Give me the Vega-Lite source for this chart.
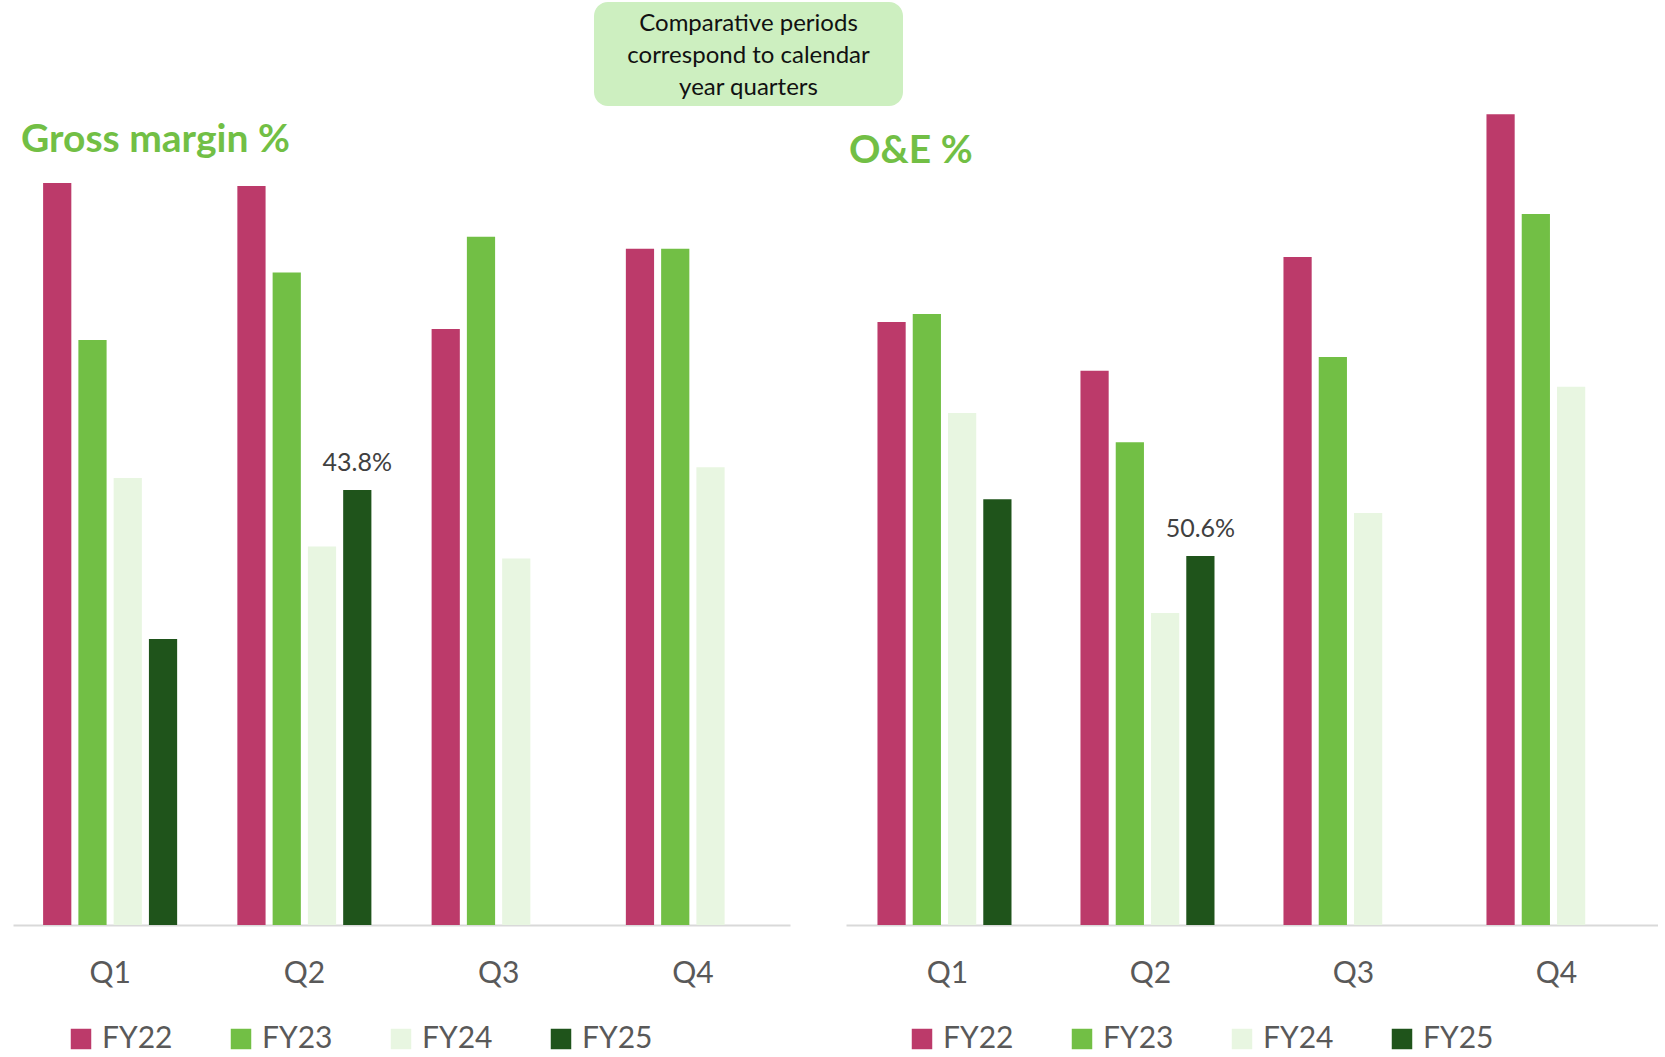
{
  "$schema": "https://vega.github.io/schema/vega-lite/v6.json",
  "background": "white",
  "padding": {"left": 13, "top": 2, "right": 0, "bottom": 0},
  "spacing": 4,
  "config": {
    "view": {"stroke": null},
    "font": "Lato"
  },
  "datasets": {
    "grossMargin": [
      {"quarter": "Q1", "year": "FY22", "value": 74.7},
      {"quarter": "Q1", "year": "FY23", "value": 58.9},
      {"quarter": "Q1", "year": "FY24", "value": 45.0},
      {"quarter": "Q1", "year": "FY25", "value": 28.8},
      {"quarter": "Q2", "year": "FY22", "value": 74.4},
      {"quarter": "Q2", "year": "FY23", "value": 65.7},
      {"quarter": "Q2", "year": "FY24", "value": 38.1},
      {"quarter": "Q2", "year": "FY25", "value": 43.8},
      {"quarter": "Q3", "year": "FY22", "value": 60.0},
      {"quarter": "Q3", "year": "FY23", "value": 69.3},
      {"quarter": "Q3", "year": "FY24", "value": 36.9},
      {"quarter": "Q4", "year": "FY22", "value": 68.1},
      {"quarter": "Q4", "year": "FY23", "value": 68.1},
      {"quarter": "Q4", "year": "FY24", "value": 46.1}
    ],
    "opex": [
      {"quarter": "Q1", "year": "FY22", "value": 82.7},
      {"quarter": "Q1", "year": "FY23", "value": 83.8},
      {"quarter": "Q1", "year": "FY24", "value": 70.2},
      {"quarter": "Q1", "year": "FY25", "value": 58.4},
      {"quarter": "Q2", "year": "FY22", "value": 76.0},
      {"quarter": "Q2", "year": "FY23", "value": 66.2},
      {"quarter": "Q2", "year": "FY24", "value": 42.8},
      {"quarter": "Q2", "year": "FY25", "value": 50.6},
      {"quarter": "Q3", "year": "FY22", "value": 91.6},
      {"quarter": "Q3", "year": "FY23", "value": 77.9},
      {"quarter": "Q3", "year": "FY24", "value": 56.5},
      {"quarter": "Q4", "year": "FY22", "value": 111.2},
      {"quarter": "Q4", "year": "FY23", "value": 97.5},
      {"quarter": "Q4", "year": "FY24", "value": 73.8}
    ],
    "note": [
      {"line": 1, "text": "Comparative periods"},
      {"line": 2, "text": "correspond to calendar"},
      {"line": 3, "text": "year quarters"}
    ]
  },
  "vconcat": [
    {
      "spacing": 0,
      "hconcat": [
        {
          "width": 581,
          "height": 104,
          "data": {"values": []},
          "mark": "point",
          "encoding": {}
        },
        {
          "width": 309,
          "height": 104,
          "view": {"fill": "#cdefc0", "cornerRadius": 14, "stroke": null},
          "data": {"name": "note"},
          "mark": {"type": "text", "fontSize": 24, "color": "#111111", "baseline": "middle", "align": "center", "dy": 2},
          "encoding": {
            "y": {"field": "line", "type": "ordinal", "axis": null, "scale": {"type": "point", "padding": 0.635}},
            "text": {"field": "text"}
          }
        }
      ]
    },
    {
      "spacing": 56,
      "resolve": {"scale": {"color": "independent", "y": "independent"}, "legend": {"color": "independent"}},
      "hconcat": [
        {
          "width": 777,
          "height": 815,
          "title": {"text": "Gross margin %", "anchor": "start", "orient": "top", "offset": -81, "baseline": "alphabetic", "dx": 8, "fontSize": 39, "fontWeight": "bold", "color": "#72bf45", "font": "Lato"},
          "data": {"name": "grossMargin"},
          "encoding": {
            "x": {
              "field": "quarter", "type": "nominal",
              "scale": {"paddingInner": 0.31, "paddingOuter": 0.155},
              "axis": {"title": null, "labelAngle": 0, "labelFontSize": 30, "labelColor": "#595959", "ticks": false, "labelPadding": 33, "domainColor": "#d9d9d9", "domainWidth": 2, "grid": false}
            },
            "xOffset": {"field": "year", "type": "nominal", "scale": {"domain": ["FY22", "FY23", "FY24", "FY25"], "paddingInner": 0.2, "paddingOuter": 0}},
            "y": {"field": "value", "type": "quantitative", "scale": {"domain": [0, 82.06], "nice": false}, "axis": null}
          },
          "layer": [
            {
              "mark": {"type": "bar"},
              "encoding": {
                "color": {
                  "field": "year", "type": "nominal",
                  "scale": {"domain": ["FY22", "FY23", "FY24", "FY25"], "range": ["#bc3a6a", "#72bf45", "#e8f6e1", "#1f541b"]},
                  "legend": {"orient": "none", "legendX": 53, "legendY": 914, "direction": "horizontal", "title": null, "symbolType": "square", "symbolSize": 420, "symbolStrokeWidth": 0, "labelFontSize": 30, "labelColor": "#595959", "labelOffset": 6, "columnPadding": 53, "padding": 0}
                }
              }
            },
            {
              "transform": [
                {"filter": "datum.year === 'FY25' && datum.quarter === 'Q2'"},
                {"calculate": "format(datum.value, '.1f') + '%'", "as": "label"}
              ],
              "mark": {"type": "text", "baseline": "alphabetic", "dy": -19, "fontSize": 25, "color": "#404040"},
              "encoding": {"text": {"field": "label"}}
            }
          ]
        },
        {
          "width": 812,
          "height": 815,
          "title": {"text": "O&E %", "anchor": "start", "orient": "top", "offset": -92, "baseline": "alphabetic", "dx": 3, "fontSize": 39, "fontWeight": "bold", "color": "#72bf45", "font": "Lato"},
          "data": {"name": "opex"},
          "encoding": {
            "x": {
              "field": "quarter", "type": "nominal",
              "scale": {"paddingInner": 0.31, "paddingOuter": 0.155},
              "axis": {"title": null, "labelAngle": 0, "labelFontSize": 30, "labelColor": "#595959", "ticks": false, "labelPadding": 33, "domainColor": "#d9d9d9", "domainWidth": 2, "grid": false}
            },
            "xOffset": {"field": "year", "type": "nominal", "scale": {"domain": ["FY22", "FY23", "FY24", "FY25"], "paddingInner": 0.2, "paddingOuter": 0}},
            "y": {"field": "value", "type": "quantitative", "scale": {"domain": [0, 111.77], "nice": false}, "axis": null}
          },
          "layer": [
            {
              "mark": {"type": "bar"},
              "encoding": {
                "color": {
                  "field": "year", "type": "nominal",
                  "scale": {"domain": ["FY22", "FY23", "FY24", "FY25"], "range": ["#bc3a6a", "#72bf45", "#e8f6e1", "#1f541b"]},
                  "legend": {"orient": "none", "legendX": 61, "legendY": 914, "direction": "horizontal", "title": null, "symbolType": "square", "symbolSize": 420, "symbolStrokeWidth": 0, "labelFontSize": 30, "labelColor": "#595959", "labelOffset": 6, "columnPadding": 53, "padding": 0}
                }
              }
            },
            {
              "transform": [
                {"filter": "datum.year === 'FY25' && datum.quarter === 'Q2'"},
                {"calculate": "format(datum.value, '.1f') + '%'", "as": "label"}
              ],
              "mark": {"type": "text", "baseline": "alphabetic", "dy": -19, "fontSize": 25, "color": "#404040"},
              "encoding": {"text": {"field": "label"}}
            }
          ]
        }
      ]
    }
  ]
}
